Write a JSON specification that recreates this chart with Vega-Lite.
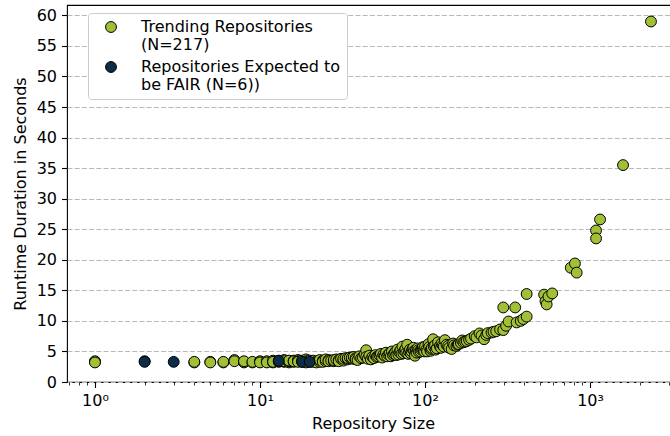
{
  "$schema": "https://vega.github.io/schema/vega-lite/v6.json",
  "width": 612,
  "height": 377,
  "autosize": {"type": "none"},
  "padding": {"left": 67, "top": 5, "right": 0, "bottom": 54},
  "background": "white",
  "config": {
    "font": "DejaVu Sans",
    "view": {"stroke": "black", "strokeWidth": 1.1},
    "axis": {
      "labelFont": "DejaVu Sans",
      "titleFont": "DejaVu Sans",
      "labelFontSize": 16,
      "titleFontSize": 16,
      "titleFontWeight": "normal",
      "labelColor": "black",
      "titleColor": "black",
      "tickColor": "black",
      "domain": false
    }
  },
  "data": {
    "values": [
      {"size": 1, "runtime": 3.3, "group": "Trending"},
      {"size": 1, "runtime": 3.4, "group": "Trending"},
      {"size": 1, "runtime": 3.2, "group": "Trending"},
      {"size": 4, "runtime": 3.2, "group": "Trending"},
      {"size": 4, "runtime": 3.3, "group": "Trending"},
      {"size": 5, "runtime": 3.3, "group": "Trending"},
      {"size": 5, "runtime": 3.2, "group": "Trending"},
      {"size": 6, "runtime": 3.2, "group": "Trending"},
      {"size": 6, "runtime": 3.3, "group": "Trending"},
      {"size": 7, "runtime": 3.6, "group": "Trending"},
      {"size": 7, "runtime": 3.4, "group": "Trending"},
      {"size": 8, "runtime": 3.3, "group": "Trending"},
      {"size": 8, "runtime": 3.2, "group": "Trending"},
      {"size": 8, "runtime": 3.4, "group": "Trending"},
      {"size": 9, "runtime": 3.2, "group": "Trending"},
      {"size": 9, "runtime": 3.3, "group": "Trending"},
      {"size": 10, "runtime": 3.3, "group": "Trending"},
      {"size": 10, "runtime": 3.4, "group": "Trending"},
      {"size": 10, "runtime": 3.2, "group": "Trending"},
      {"size": 11, "runtime": 3.3, "group": "Trending"},
      {"size": 11, "runtime": 3.4, "group": "Trending"},
      {"size": 11, "runtime": 3.2, "group": "Trending"},
      {"size": 12, "runtime": 3.2, "group": "Trending"},
      {"size": 12, "runtime": 3.5, "group": "Trending"},
      {"size": 12, "runtime": 3.3, "group": "Trending"},
      {"size": 13, "runtime": 3.3, "group": "Trending"},
      {"size": 13, "runtime": 3.4, "group": "Trending"},
      {"size": 13, "runtime": 3.5, "group": "Trending"},
      {"size": 14, "runtime": 3.6, "group": "Trending"},
      {"size": 14, "runtime": 3.3, "group": "Trending"},
      {"size": 14, "runtime": 3.4, "group": "Trending"},
      {"size": 15, "runtime": 3.2, "group": "Trending"},
      {"size": 15, "runtime": 3.4, "group": "Trending"},
      {"size": 15, "runtime": 3.5, "group": "Trending"},
      {"size": 16, "runtime": 3.5, "group": "Trending"},
      {"size": 16, "runtime": 3.3, "group": "Trending"},
      {"size": 16, "runtime": 3.4, "group": "Trending"},
      {"size": 17, "runtime": 3.6, "group": "Trending"},
      {"size": 17, "runtime": 3.4, "group": "Trending"},
      {"size": 17, "runtime": 3.3, "group": "Trending"},
      {"size": 18, "runtime": 3.3, "group": "Trending"},
      {"size": 18, "runtime": 3.5, "group": "Trending"},
      {"size": 19, "runtime": 3.7, "group": "Trending"},
      {"size": 19, "runtime": 3.4, "group": "Trending"},
      {"size": 19, "runtime": 3.2, "group": "Trending"},
      {"size": 20, "runtime": 3.3, "group": "Trending"},
      {"size": 20, "runtime": 3.5, "group": "Trending"},
      {"size": 21, "runtime": 3.3, "group": "Trending"},
      {"size": 21, "runtime": 3.5, "group": "Trending"},
      {"size": 22, "runtime": 3.4, "group": "Trending"},
      {"size": 22, "runtime": 3.2, "group": "Trending"},
      {"size": 23, "runtime": 3.3, "group": "Trending"},
      {"size": 23, "runtime": 3.6, "group": "Trending"},
      {"size": 24, "runtime": 3.5, "group": "Trending"},
      {"size": 24, "runtime": 3.3, "group": "Trending"},
      {"size": 25, "runtime": 3.4, "group": "Trending"},
      {"size": 25, "runtime": 3.7, "group": "Trending"},
      {"size": 26, "runtime": 3.6, "group": "Trending"},
      {"size": 26, "runtime": 3.4, "group": "Trending"},
      {"size": 27, "runtime": 3.5, "group": "Trending"},
      {"size": 28, "runtime": 3.4, "group": "Trending"},
      {"size": 28, "runtime": 3.6, "group": "Trending"},
      {"size": 29, "runtime": 3.7, "group": "Trending"},
      {"size": 30, "runtime": 3.6, "group": "Trending"},
      {"size": 30, "runtime": 3.4, "group": "Trending"},
      {"size": 31, "runtime": 3.8, "group": "Trending"},
      {"size": 32, "runtime": 3.5, "group": "Trending"},
      {"size": 32, "runtime": 3.8, "group": "Trending"},
      {"size": 33, "runtime": 3.9, "group": "Trending"},
      {"size": 34, "runtime": 3.7, "group": "Trending"},
      {"size": 34, "runtime": 3.9, "group": "Trending"},
      {"size": 35, "runtime": 4.0, "group": "Trending"},
      {"size": 36, "runtime": 3.8, "group": "Trending"},
      {"size": 36, "runtime": 4.0, "group": "Trending"},
      {"size": 37, "runtime": 4.1, "group": "Trending"},
      {"size": 38, "runtime": 3.9, "group": "Trending"},
      {"size": 38, "runtime": 3.7, "group": "Trending"},
      {"size": 39, "runtime": 3.6, "group": "Trending"},
      {"size": 40, "runtime": 4.2, "group": "Trending"},
      {"size": 41, "runtime": 3.9, "group": "Trending"},
      {"size": 42, "runtime": 4.0, "group": "Trending"},
      {"size": 43, "runtime": 4.5, "group": "Trending"},
      {"size": 44, "runtime": 5.2, "group": "Trending"},
      {"size": 44, "runtime": 4.1, "group": "Trending"},
      {"size": 45, "runtime": 3.8, "group": "Trending"},
      {"size": 46, "runtime": 4.3, "group": "Trending"},
      {"size": 47, "runtime": 3.7, "group": "Trending"},
      {"size": 48, "runtime": 4.1, "group": "Trending"},
      {"size": 49, "runtime": 3.9, "group": "Trending"},
      {"size": 50, "runtime": 4.4, "group": "Trending"},
      {"size": 51, "runtime": 4.1, "group": "Trending"},
      {"size": 52, "runtime": 4.2, "group": "Trending"},
      {"size": 53, "runtime": 4.4, "group": "Trending"},
      {"size": 54, "runtime": 4.6, "group": "Trending"},
      {"size": 55, "runtime": 4.0, "group": "Trending"},
      {"size": 56, "runtime": 4.5, "group": "Trending"},
      {"size": 57, "runtime": 4.3, "group": "Trending"},
      {"size": 58, "runtime": 4.8, "group": "Trending"},
      {"size": 59, "runtime": 4.2, "group": "Trending"},
      {"size": 60, "runtime": 4.5, "group": "Trending"},
      {"size": 61, "runtime": 4.7, "group": "Trending"},
      {"size": 62, "runtime": 4.2, "group": "Trending"},
      {"size": 63, "runtime": 5.0, "group": "Trending"},
      {"size": 64, "runtime": 4.4, "group": "Trending"},
      {"size": 65, "runtime": 4.6, "group": "Trending"},
      {"size": 66, "runtime": 4.9, "group": "Trending"},
      {"size": 67, "runtime": 4.4, "group": "Trending"},
      {"size": 68, "runtime": 5.3, "group": "Trending"},
      {"size": 69, "runtime": 4.5, "group": "Trending"},
      {"size": 70, "runtime": 4.9, "group": "Trending"},
      {"size": 71, "runtime": 5.2, "group": "Trending"},
      {"size": 72, "runtime": 4.6, "group": "Trending"},
      {"size": 73, "runtime": 5.8, "group": "Trending"},
      {"size": 74, "runtime": 4.7, "group": "Trending"},
      {"size": 75, "runtime": 5.1, "group": "Trending"},
      {"size": 76, "runtime": 5.4, "group": "Trending"},
      {"size": 77, "runtime": 4.8, "group": "Trending"},
      {"size": 78, "runtime": 6.1, "group": "Trending"},
      {"size": 79, "runtime": 4.6, "group": "Trending"},
      {"size": 80, "runtime": 5.0, "group": "Trending"},
      {"size": 81, "runtime": 5.3, "group": "Trending"},
      {"size": 82, "runtime": 4.7, "group": "Trending"},
      {"size": 83, "runtime": 5.0, "group": "Trending"},
      {"size": 84, "runtime": 5.4, "group": "Trending"},
      {"size": 85, "runtime": 5.6, "group": "Trending"},
      {"size": 86, "runtime": 5.1, "group": "Trending"},
      {"size": 87, "runtime": 4.3, "group": "Trending"},
      {"size": 88, "runtime": 5.2, "group": "Trending"},
      {"size": 89, "runtime": 4.8, "group": "Trending"},
      {"size": 90, "runtime": 5.5, "group": "Trending"},
      {"size": 91, "runtime": 5.2, "group": "Trending"},
      {"size": 92, "runtime": 4.9, "group": "Trending"},
      {"size": 94, "runtime": 5.0, "group": "Trending"},
      {"size": 95, "runtime": 5.3, "group": "Trending"},
      {"size": 96, "runtime": 5.5, "group": "Trending"},
      {"size": 97, "runtime": 5.7, "group": "Trending"},
      {"size": 98, "runtime": 5.3, "group": "Trending"},
      {"size": 99, "runtime": 5.0, "group": "Trending"},
      {"size": 100, "runtime": 5.8, "group": "Trending"},
      {"size": 102, "runtime": 5.3, "group": "Trending"},
      {"size": 103, "runtime": 5.0, "group": "Trending"},
      {"size": 105, "runtime": 6.2, "group": "Trending"},
      {"size": 106, "runtime": 5.7, "group": "Trending"},
      {"size": 108, "runtime": 5.1, "group": "Trending"},
      {"size": 109, "runtime": 5.4, "group": "Trending"},
      {"size": 110, "runtime": 5.6, "group": "Trending"},
      {"size": 112, "runtime": 7.0, "group": "Trending"},
      {"size": 113, "runtime": 5.8, "group": "Trending"},
      {"size": 115, "runtime": 6.0, "group": "Trending"},
      {"size": 116, "runtime": 5.3, "group": "Trending"},
      {"size": 118, "runtime": 5.5, "group": "Trending"},
      {"size": 120, "runtime": 6.5, "group": "Trending"},
      {"size": 123, "runtime": 5.9, "group": "Trending"},
      {"size": 125, "runtime": 5.6, "group": "Trending"},
      {"size": 126, "runtime": 6.3, "group": "Trending"},
      {"size": 128, "runtime": 6.0, "group": "Trending"},
      {"size": 130, "runtime": 5.8, "group": "Trending"},
      {"size": 132, "runtime": 6.85, "group": "Trending"},
      {"size": 135, "runtime": 6.1, "group": "Trending"},
      {"size": 138, "runtime": 5.9, "group": "Trending"},
      {"size": 140, "runtime": 5.6, "group": "Trending"},
      {"size": 145, "runtime": 5.4, "group": "Trending"},
      {"size": 148, "runtime": 6.3, "group": "Trending"},
      {"size": 150, "runtime": 6.0, "group": "Trending"},
      {"size": 155, "runtime": 5.9, "group": "Trending"},
      {"size": 158, "runtime": 6.1, "group": "Trending"},
      {"size": 160, "runtime": 6.2, "group": "Trending"},
      {"size": 165, "runtime": 6.4, "group": "Trending"},
      {"size": 168, "runtime": 6.8, "group": "Trending"},
      {"size": 171, "runtime": 6.5, "group": "Trending"},
      {"size": 175, "runtime": 6.6, "group": "Trending"},
      {"size": 179, "runtime": 6.7, "group": "Trending"},
      {"size": 185, "runtime": 6.9, "group": "Trending"},
      {"size": 190, "runtime": 7.1, "group": "Trending"},
      {"size": 200, "runtime": 7.5, "group": "Trending"},
      {"size": 205, "runtime": 7.3, "group": "Trending"},
      {"size": 214, "runtime": 7.95, "group": "Trending"},
      {"size": 220, "runtime": 7.6, "group": "Trending"},
      {"size": 228, "runtime": 7.0, "group": "Trending"},
      {"size": 235, "runtime": 7.7, "group": "Trending"},
      {"size": 240, "runtime": 8.0, "group": "Trending"},
      {"size": 253, "runtime": 8.1, "group": "Trending"},
      {"size": 260, "runtime": 8.2, "group": "Trending"},
      {"size": 270, "runtime": 8.3, "group": "Trending"},
      {"size": 285, "runtime": 8.6, "group": "Trending"},
      {"size": 298, "runtime": 8.5, "group": "Trending"},
      {"size": 298, "runtime": 12.2, "group": "Trending"},
      {"size": 310, "runtime": 9.2, "group": "Trending"},
      {"size": 321, "runtime": 9.9, "group": "Trending"},
      {"size": 352, "runtime": 12.2, "group": "Trending"},
      {"size": 359, "runtime": 9.75, "group": "Trending"},
      {"size": 380, "runtime": 10.0, "group": "Trending"},
      {"size": 394, "runtime": 10.3, "group": "Trending"},
      {"size": 413, "runtime": 10.7, "group": "Trending"},
      {"size": 413, "runtime": 14.4, "group": "Trending"},
      {"size": 527, "runtime": 14.3, "group": "Trending"},
      {"size": 537, "runtime": 13.2, "group": "Trending"},
      {"size": 546, "runtime": 12.7, "group": "Trending"},
      {"size": 560, "runtime": 14.0, "group": "Trending"},
      {"size": 590, "runtime": 14.5, "group": "Trending"},
      {"size": 764, "runtime": 18.7, "group": "Trending"},
      {"size": 810, "runtime": 19.4, "group": "Trending"},
      {"size": 830, "runtime": 17.9, "group": "Trending"},
      {"size": 1087, "runtime": 24.8, "group": "Trending"},
      {"size": 1088, "runtime": 23.5, "group": "Trending"},
      {"size": 1150, "runtime": 26.6, "group": "Trending"},
      {"size": 1585, "runtime": 35.5, "group": "Trending"},
      {"size": 2340, "runtime": 59.0, "group": "Trending"},
      {"size": 2, "runtime": 3.4, "group": "FAIR"},
      {"size": 2, "runtime": 3.3, "group": "FAIR"},
      {"size": 3, "runtime": 3.3, "group": "FAIR"},
      {"size": 13, "runtime": 3.45, "group": "FAIR"},
      {"size": 18, "runtime": 3.3, "group": "FAIR"},
      {"size": 20, "runtime": 3.3, "group": "FAIR"}
    ]
  },
  "resolve": {"axis": {"x": "independent"}},
  "layer": [
    {
      "mark": {"type": "point", "filled": true, "size": 118, "stroke": "black", "strokeWidth": 1, "opacity": 1},
      "encoding": {
        "x": {
          "field": "size", "type": "quantitative",
          "scale": {"type": "log", "domain": [0.677, 3460], "nice": false},
          "axis": {
            "orient": "bottom",
            "title": "Repository Size",
            "values": [1, 10, 100, 1000],
            "labelExpr": "datum.value < 5 ? '10⁰' : datum.value < 50 ? '10¹' : datum.value < 500 ? '10²' : '10³'",
            "grid": false,
            "tickSize": 5.5,
            "tickWidth": 1.1,
            "labelPadding": 5,
            "titlePadding": 7
          }
        },
        "y": {
          "field": "runtime", "type": "quantitative",
          "scale": {"domain": [0, 61.7], "nice": false, "zero": true},
          "axis": {
            "title": "Runtime Duration in Seconds",
            "values": [0, 5, 10, 15, 20, 25, 30, 35, 40, 45, 50, 55, 60],
            "grid": true,
            "gridColor": "#b8b8b8",
            "gridDash": [5, 2.2],
            "gridWidth": 1,
            "tickSize": 5.5,
            "tickWidth": 1.1,
            "labelPadding": 5,
            "titlePadding": 8
          }
        },
        "color": {
          "field": "group", "type": "nominal",
          "scale": {"domain": ["Trending", "FAIR"], "range": ["#a2c035", "#0b2d47"]},
          "legend": {
            "title": null,
            "orient": "none",
            "legendX": 21,
            "legendY": 8,
            "fillColor": "white",
            "strokeColor": "#cccccc",
            "cornerRadius": 3,
            "padding": 6,
            "symbolType": "circle",
            "symbolSize": 118,
            "symbolStrokeColor": "black",
            "symbolStrokeWidth": 1,
            "symbolOpacity": 1,
            "symbolOffset": 9,
            "labelOffset": 22,
            "labelFont": "DejaVu Sans",
            "labelFontSize": 16,
            "labelColor": "black",
            "labelLimit": 300,
            "rowPadding": 6,
            "labelExpr": "datum.label == 'Trending' ? ['Trending Repositories', '(N=217)'] : ['Repositories Expected to', 'be FAIR (N=6))']"
          }
        }
      }
    },
    {
      "mark": {"type": "point", "opacity": 0},
      "encoding": {
        "x": {
          "field": "size", "type": "quantitative",
          "axis": {
            "orient": "bottom",
            "title": null,
            "labels": false,
            "grid": false,
            "values": [0.7, 0.8, 0.9, 2, 3, 4, 5, 6, 7, 8, 9, 20, 30, 40, 50, 60, 70, 80, 90, 200, 300, 400, 500, 600, 700, 800, 900, 2000, 3000],
            "tickSize": 3,
            "tickWidth": 0.8
          }
        }
      }
    }
  ]
}
